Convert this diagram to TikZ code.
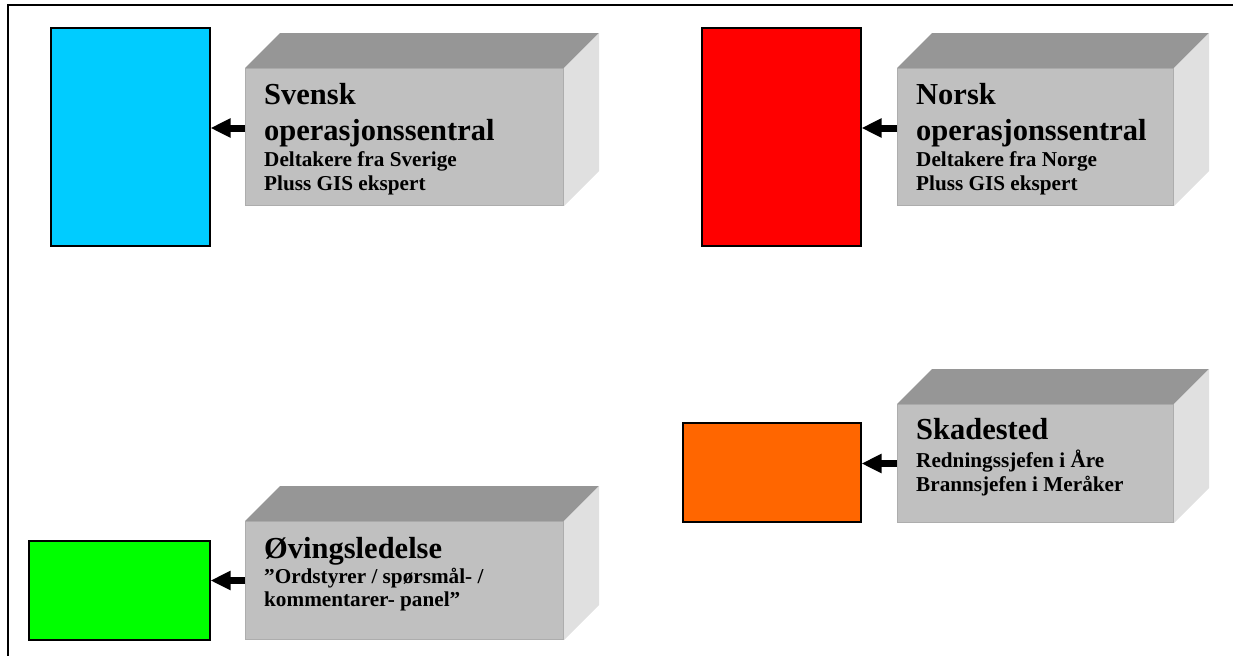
\documentclass[tikz,border=0pt]{standalone}
\usepackage{fontspec}
\setmainfont{Liberation Serif}
\usepackage{tikz}
\usetikzlibrary{arrows.meta}
\usetikzlibrary{calc}
\definecolor{cyanpanel}{HTML}{00CCFF}
\definecolor{redpanel}{HTML}{FF0000}
\definecolor{orangepanel}{HTML}{FF6600}
\definecolor{greenpanel}{HTML}{00FF00}
\definecolor{slabfront}{HTML}{C0C0C0}
\definecolor{slabtop}{HTML}{969696}
\definecolor{slabside}{HTML}{E0E0E0}
\definecolor{slabedge}{HTML}{ADADAD}
\newcommand{\titlefont}{\fontsize{30.5}{36}\selectfont\bfseries}
\newcommand{\bodyfont}{\fontsize{21.2}{26}\selectfont\bfseries}
\tikzset{panel/.style = {draw, line width=1.5pt, inner sep=0, anchor=north west}}
\tikzset{slab/.style = {fill=slabfront, draw=slabedge, line width=1pt, inner sep=0, anchor=north west}}
\tikzset{titletxt/.style = {anchor=base west, inner sep=0, font=\titlefont}}
\tikzset{bodytxt/.style = {anchor=base west, inner sep=0, font=\bodyfont}}
\tikzset{blockarrow/.style = {line width=7pt, -{Triangle[length=20pt, width=18pt]}}}

\begin{document}
\begin{tikzpicture}[x=1pt, y=-1pt]
    \useasboundingbox (0, 0) rectangle (1233, 656);
    \draw [line width=2pt] (1233, 5) -- (8, 5) -- (8, 656);
    % coloured panels
    \node [panel, fill=cyanpanel, minimum width=159pt, minimum height=218pt] (blu) at (50, 27) {};
    \node [panel, fill=redpanel, minimum width=159pt, minimum height=218pt] (red) at (701, 27) {};
    \node [panel, fill=orangepanel, minimum width=178pt, minimum height=99pt] (ora) at (682, 422) {};
    \node [panel, fill=greenpanel, minimum width=181pt, minimum height=99pt] (gre) at (28, 540) {};
    % front faces of the slabs
    \node [slab, minimum width=318pt, minimum height=137pt] (sve) at (245, 68) {};
    \node [slab, minimum width=276pt, minimum height=137pt] (nor) at (897, 68) {};
    \node [slab, minimum width=276pt, minimum height=118pt] (ska) at (897, 404) {};
    \node [slab, minimum width=318pt, minimum height=118pt] (ovi) at (245, 521) {};
    \foreach \f in {sve, nor, ska, ovi} {
      \fill [slabtop] (\f.north west) -- ++(35, -35) -- ($(\f.north east) + (35, -35)$) -- (\f.north east) -- cycle;
      \fill [slabside] (\f.north east) -- ++(35, -35) -- ($(\f.south east) + (35, -35)$) -- (\f.south east) -- cycle;
    }
    % texts
    \node [titletxt] (sveA) at (264, 104) {Svensk};
    \node [titletxt] (sveB) at (264, 140) {operasjonssentral};
    \node [bodytxt] (sveC) at (264, 166) {Deltakere fra Sverige};
    \node [bodytxt] (sveD) at (264, 190) {Pluss GIS ekspert};
    \node [titletxt] (norA) at (916, 104) {Norsk};
    \node [titletxt] (norB) at (916, 140) {operasjonssentral};
    \node [bodytxt] (norC) at (916, 166) {Deltakere fra Norge};
    \node [bodytxt] (norD) at (916, 190) {Pluss GIS ekspert};
    \node [titletxt] (skaA) at (916, 439) {Skadested};
    \node [bodytxt] (skaB) at (916, 467) {Redningssjefen i Åre};
    \node [bodytxt] (skaC) at (916, 491) {Brannsjefen i Meråker};
    \node [titletxt] (oviA) at (264, 558) {Øvingsledelse};
    \node [bodytxt] (oviB) at (264, 583) {”Ordstyrer / spørsmål- /};
    \node [bodytxt] (oviC) at (264, 606) {kommentarer- panel”};
    % arrows
    \draw [blockarrow] ([yshift=9pt]sve.west) -- ([yshift=9pt]sve.west -| blu.east);
    \draw [blockarrow] ([yshift=9pt]nor.west) -- ([yshift=9pt]nor.west -| red.east);
    \draw [blockarrow] (ska.west) -- (ska.west -| ora.east);
    \draw [blockarrow] (ovi.west) -- (ovi.west -| gre.east);
\end{tikzpicture}
\end{document}
